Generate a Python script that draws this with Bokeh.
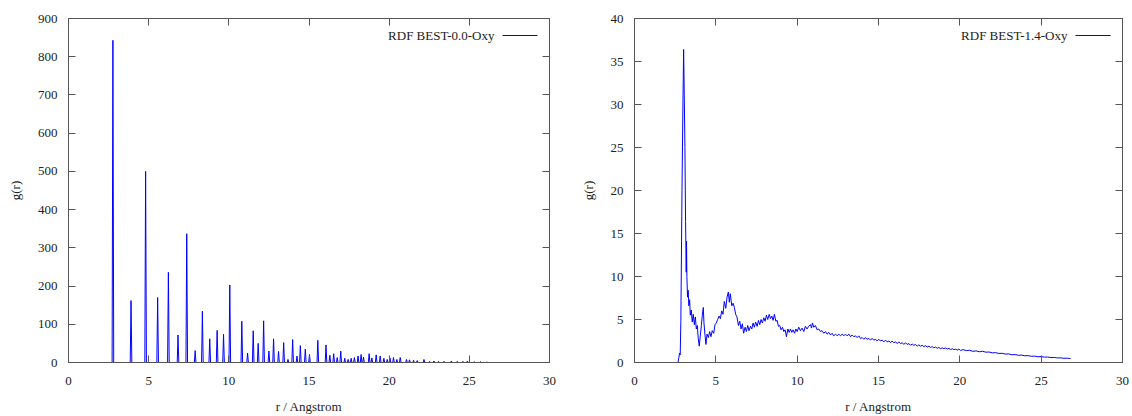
from bokeh.plotting import figure
from bokeh.models import Range1d, LinearAxis, SingleIntervalTicker, Label
from bokeh.layouts import row
from bokeh.embed import file_html
from bokeh.resources import INLINE

# ---------------- data ----------------
# Left panel: crystalline RDF, sharp peaks (position r, height g)
peak_r = [2.77, 3.90, 4.81, 5.56, 6.23, 6.83, 7.375, 7.90, 8.35, 8.81, 9.27, 9.67,
          10.06, 10.81, 11.17, 11.52, 11.83, 12.17, 12.50, 12.79, 13.10, 13.42, 13.69,
          13.98, 14.25, 14.46, 14.77, 15.03, 15.55, 16.06, 16.30, 16.54, 16.76, 16.98,
          17.23, 17.44, 17.63, 17.83, 18.06, 18.25, 18.40, 18.75, 18.92, 19.19, 19.44,
          19.67, 19.88, 20.05, 20.27, 20.48, 20.69, 21.08, 21.27, 21.52, 21.75, 22.17,
          22.52, 22.79, 23.08, 23.42, 23.88, 24.25, 24.60, 24.88, 25.30, 25.70, 26.10]
peak_g = [843, 162, 500, 170, 236, 72, 337, 31, 134, 62, 84, 74,
          203, 108, 25, 83, 50, 109, 30, 62, 29, 52, 8,
          60, 17, 44, 35, 21, 58, 46, 19, 23, 13, 30,
          11, 8, 11, 13, 17, 21, 14, 23, 12, 20, 17,
          11, 8, 12, 13, 8, 13, 8, 7, 6, 5, 8,
          3, 4, 3, 3, 4, 3, 3, 4, 2, 2, 1.5]
left_r_end = 26.9
peak_halfwidth = 0.05

# Right panel: disordered RDF
right_r = [0.0, 2.67, 2.73, 2.77, 2.81, 2.85, 2.92, 2.98, 3.02, 3.06, 3.10, 3.14, 3.18, 3.20,
           3.22, 3.26, 3.30, 3.34, 3.39, 3.43, 3.49, 3.55, 3.61, 3.68, 3.74, 3.80, 3.86,
           3.92, 3.98, 4.05, 4.11, 4.17, 4.23, 4.27, 4.33, 4.39, 4.46, 4.54, 4.62, 4.70,
           4.78, 4.87, 4.95, 5.03, 5.11, 5.20, 5.28, 5.36, 5.44, 5.52, 5.61, 5.69, 5.77,
           5.83, 5.89, 5.98, 6.06, 6.14, 6.22, 6.30, 6.39, 6.47, 6.55, 6.63, 6.71, 6.80,
           6.88, 6.96, 7.04, 7.13, 7.21, 7.29, 7.37, 7.45, 7.54, 7.62, 7.70, 7.78, 7.86,
           7.95, 8.03, 8.11, 8.19, 8.28, 8.36, 8.44, 8.52, 8.60, 8.69, 8.77, 8.85, 8.93,
           9.01, 9.10, 9.18, 9.26, 9.34, 9.43, 9.51, 9.59, 9.67, 9.75, 9.84, 9.92, 10.00,
           10.10, 10.20, 10.30, 10.41, 10.50, 10.61, 10.70, 10.82, 10.88, 10.94,
           11.02, 11.12, 11.23, 11.33, 11.43, 11.53, 11.64, 11.74, 11.84, 11.95, 12.05,
           12.15, 12.25, 12.36, 12.46, 12.56, 12.66, 12.77, 12.87, 12.97, 13.07, 13.18,
           13.28, 13.38, 13.48, 13.59, 13.69, 13.79, 13.89, 14.00, 14.10, 14.20, 14.30,
           14.41, 14.51, 14.61, 14.71, 14.82, 14.92, 15.02, 15.12, 15.23, 15.33, 15.43,
           15.53, 15.64, 15.74, 15.84, 15.94, 16.05, 16.15, 16.25, 16.35, 16.46, 16.56,
           16.66, 16.76, 16.87, 16.97, 17.07, 17.17, 17.28, 17.38, 17.48, 17.58, 17.69,
           17.79, 17.89, 17.99, 18.10, 18.20, 18.30, 18.40, 18.51, 18.61, 18.71, 18.81,
           18.92, 19.02, 19.12, 19.22, 19.33, 19.43, 19.53, 19.63, 19.74, 19.84, 19.94,
           20.05, 20.2, 20.4, 20.6, 20.8, 21.0, 21.2, 21.4, 21.6, 21.8, 22.0, 22.2, 22.4,
           22.6, 22.8, 23.0, 23.2, 23.4, 23.6, 23.8, 24.0, 24.2, 24.4, 24.6, 24.8, 25.0,
           25.2, 25.4, 25.6, 25.8, 26.0, 26.2, 26.4, 26.6, 26.8]
right_g = [0.0, 0.0, 0.6, 1.1, 0.9, 4.8, 20.0, 30.5, 36.4, 31.0, 25.0, 16.4, 10.5, 14.1,
           10.0, 7.6, 8.4, 6.6, 7.3, 5.5, 6.1, 4.7, 5.6, 4.4, 5.3, 3.9, 4.3,
           2.8, 1.9, 3.2, 4.3, 5.5, 6.4, 4.6, 3.3, 2.1, 3.3, 2.9, 3.6, 3.0,
           3.7, 3.4, 4.4, 4.6, 5.0, 5.4, 5.1, 6.0, 5.6, 7.1, 6.3, 7.6, 8.2,
           7.0, 8.0, 6.6, 6.9, 6.4, 5.6, 5.3, 4.3, 4.8, 3.9, 4.5, 3.4, 4.1,
           3.6, 4.3, 3.7, 4.2, 3.9, 4.6, 4.1, 4.7, 4.2, 4.9, 4.4, 5.0, 4.6,
           5.2, 4.8, 5.5, 5.0, 5.6, 5.1, 5.4, 4.9, 5.6, 4.8, 4.9, 4.2, 4.3,
           3.8, 4.1, 3.6, 3.8, 3.0, 3.9, 3.5, 3.9, 3.5, 3.8, 3.4, 3.9, 3.6,
           4.1, 3.7, 4.0, 3.6, 4.2, 3.9, 4.2, 4.4, 4.0, 4.6,
           4.1, 4.3, 3.8, 3.9, 3.6, 3.7, 3.4, 3.6, 3.3, 3.5, 3.2,
           3.4, 3.1, 3.3, 3.1, 3.3, 3.1, 3.3, 3.1, 3.3, 3.1, 3.3,
           3.0, 3.2, 3.0, 3.1, 2.9, 3.1, 2.8, 2.9, 2.7, 2.9, 2.7,
           2.8, 2.6, 2.8, 2.6, 2.7, 2.5, 2.7, 2.5, 2.6, 2.4, 2.6,
           2.4, 2.5, 2.3, 2.5, 2.3, 2.4, 2.2, 2.4, 2.2, 2.3, 2.1,
           2.3, 2.1, 2.2, 2.0, 2.15, 2.0, 2.1, 1.9, 2.05, 1.9, 2.0,
           1.85, 1.95, 1.8, 1.9, 1.75, 1.85, 1.7, 1.8, 1.65, 1.75, 1.6,
           1.7, 1.6, 1.7, 1.55, 1.65, 1.5, 1.6, 1.5, 1.55, 1.45, 1.55,
           1.4, 1.5, 1.38, 1.42, 1.3, 1.35, 1.25, 1.3, 1.2, 1.22, 1.12, 1.15, 1.05,
           1.07, 0.98, 1.0, 0.9, 0.92, 0.84, 0.86, 0.78, 0.8, 0.72, 0.74, 0.67, 0.69,
           0.62, 0.64, 0.57, 0.59, 0.53, 0.54, 0.49, 0.5, 0.45]

left_label = "RDF BEST-0.0-Oxy"
right_label = "RDF BEST-1.4-Oxy"
x_label = "r / Angstrom"
y_label = "g(r)"
x_range_max = 30
left_y_max = 900
right_y_max = 40

# ---------------- style ----------------
FONT = "Liberation Serif"
FS = "13px"
AXC = "#555555"
TXT = "#222222"
BLUE = "#0000ff"


def build_left_line():
    xs, ys = [0.0], [0.0]
    for r, g in zip(peak_r, peak_g):
        xs += [r - peak_halfwidth, r, r + peak_halfwidth]
        ys += [0.0, g, 0.0]
    xs.append(left_r_end)
    ys.append(0.0)
    return xs, ys


def make_panel(xs, ys, ymax, ystep, label, width, bl, br):
    H = 416
    bt, bb = 18, 54
    p = figure(width=width, height=H, output_backend="svg", toolbar_location=None,
               x_range=Range1d(0, x_range_max), y_range=Range1d(0, ymax),
               min_border_left=bl, min_border_right=br, min_border_top=bt,
               min_border_bottom=bb)
    p.xgrid.visible = False
    p.ygrid.visible = False
    p.outline_line_color = AXC
    p.background_fill_color = "white"
    p.border_fill_color = "white"

    xt = SingleIntervalTicker(interval=5)
    yt = SingleIntervalTicker(interval=ystep)
    p.xaxis.ticker = xt
    p.yaxis.ticker = yt

    for ax in (p.xaxis[0], p.yaxis[0]):
        ax.major_tick_in = 7
        ax.major_tick_out = 0
        ax.minor_tick_line_color = None
        ax.axis_line_color = AXC
        ax.major_tick_line_color = AXC
        ax.major_label_text_font = FONT
        ax.major_label_text_font_size = FS
        ax.major_label_text_color = TXT
        ax.axis_label_text_font = FONT
        ax.axis_label_text_font_size = FS
        ax.axis_label_text_font_style = "normal"
        ax.axis_label_text_color = TXT
    p.xaxis.major_label_standoff = 10
    p.xaxis.axis_label_standoff = 11
    p.yaxis.major_label_standoff = 7
    p.yaxis.axis_label_standoff = 12
    p.xaxis.axis_label = x_label
    p.yaxis.axis_label = y_label

    # mirrored ticks on top and right
    for side, tk in (("above", xt), ("right", yt)):
        ax = LinearAxis(ticker=tk, major_tick_in=7, major_tick_out=0,
                        minor_tick_line_color=None, axis_line_color=AXC,
                        major_tick_line_color=AXC, major_label_text_font_size="0px",
                        major_label_standoff=0)
        p.add_layout(ax, side)

    p.line(xs, ys, line_color=BLUE, line_width=1)

    # gnuplot-style key: text then sample line, top right
    frame_w = width - bl - br
    frame_h = H - bt - bb
    upx = x_range_max / frame_w
    upy = ymax / frame_h
    key_y = ymax - 17 * upy
    s_end = x_range_max - 12 * upx
    s_start = s_end - 35 * upx
    t_end = s_start - 8 * upx
    p.add_layout(Label(x=t_end, y=key_y, text=label, text_align="right",
                       text_baseline="middle", text_font=FONT, text_font_size=FS,
                       text_color=TXT))
    p.segment(x0=[s_start], y0=[key_y], x1=[s_end], y1=[key_y],
              line_color=BLUE, line_width=1)
    return p


lx, ly = build_left_line()
p1 = make_panel(lx, ly, left_y_max, 100, left_label, 566, 68, 17)
p2 = make_panel(right_r, right_g, right_y_max, 5, right_label, 566, 68, 10)

layout = row(p1, p2)
open("out.html", "w").write(file_html(layout, INLINE))
